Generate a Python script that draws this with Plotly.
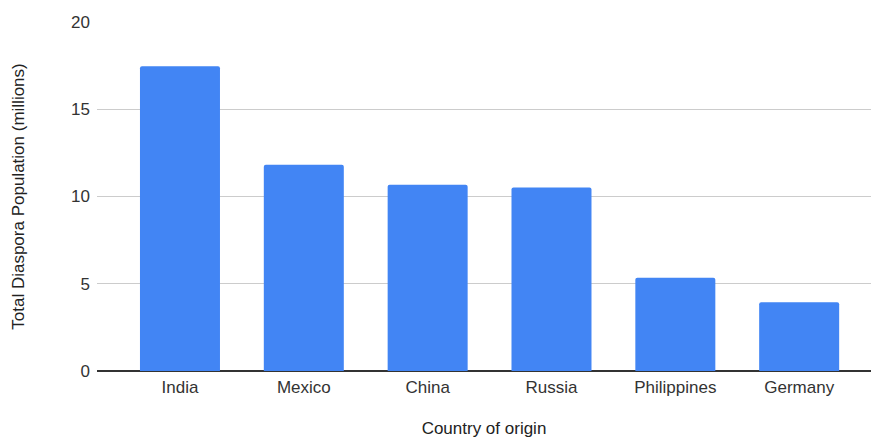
import plotly.graph_objects as go

countries = ["India", "Mexico", "China", "Russia", "Philippines", "Germany"]
population_millions = [17.47, 11.82, 10.67, 10.52, 5.34, 3.94]
y_ticks = [0, 5, 10, 15, 20]

FONT = "Liberation Sans, Arial, sans-serif"

fig = go.Figure(
    go.Bar(
        x=countries,
        y=population_millions,
        marker=dict(color="#4285F4", line=dict(width=0)),
        width=0.646,
    )
)

fig.update_layout(
    width=871,
    height=438,
    margin=dict(l=97, r=0, t=22, b=67),
    paper_bgcolor="white",
    plot_bgcolor="white",
    showlegend=False,
    barcornerradius=2,
    font=dict(family=FONT, size=17, color="#333333"),
    xaxis=dict(
        range=[-0.67, 5.58],
        showgrid=False,
        showline=False,
        zeroline=False,
        ticks="",
        ticklabelstandoff=4,
        tickfont=dict(size=17, color="#333333"),
        title=dict(text="Country of origin", font=dict(size=17, color="#222222"), standoff=26),
    ),
    yaxis=dict(
        range=[0, 20],
        tickvals=y_ticks,
        showgrid=True,
        gridcolor="#cccccc",
        gridwidth=1,
        zeroline=True,
        zerolinecolor="#333333",
        zerolinewidth=1.5,
        showline=False,
        ticks="",
        ticklabelstandoff=6,
        tickfont=dict(size=17, color="#333333"),
        title=dict(text="Total Diaspora Population (millions)", font=dict(size=17, color="#222222"), standoff=42),
    ),
)

fig.write_html("out.html")
